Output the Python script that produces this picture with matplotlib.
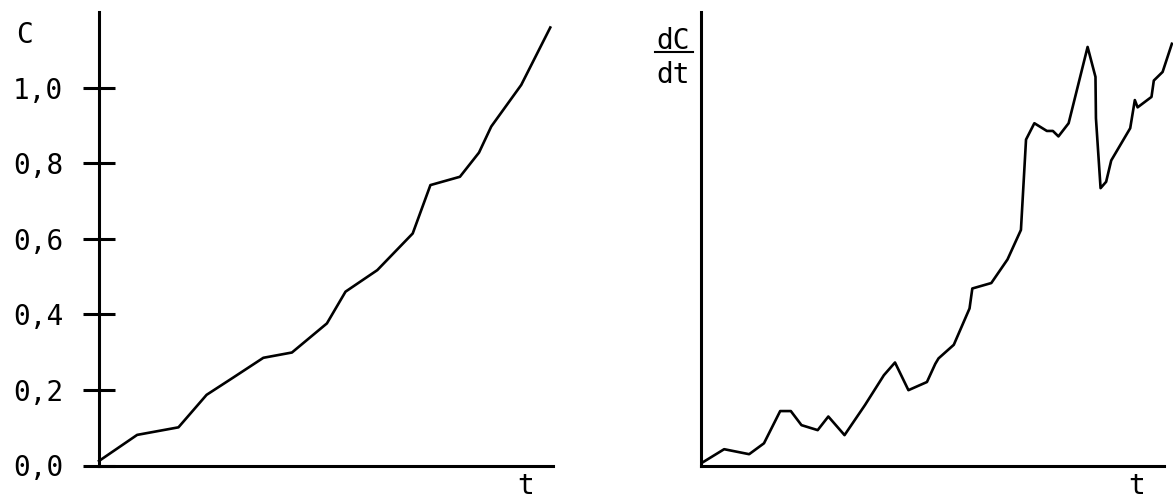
import matplotlib
matplotlib.use('Agg')
import matplotlib.pyplot as plt
from matplotlib.lines import Line2D

plt.rcParams['font.family'] = ['DejaVu Sans Mono', 'DejaVu Sans']

# concentration C(t), left panel
tC = [0.0, 0.084, 0.175, 0.237, 0.296, 0.362, 0.425, 0.502, 0.543, 0.613,
      0.691, 0.730, 0.795, 0.837, 0.864, 0.930, 0.994]
C = [0.012, 0.081, 0.101, 0.187, 0.233, 0.285, 0.299, 0.376, 0.460, 0.517,
     0.614, 0.742, 0.764, 0.828, 0.897, 1.007, 1.159]
cTicks = [0.0, 0.2, 0.4, 0.6, 0.8, 1.0]
cTickLabels = ['0,0', '0,2', '0,4', '0,6', '0,8', '1,0']

# rate dC/dt, right panel
tR = [0.002, 0.050, 0.104, 0.136, 0.171, 0.194, 0.217, 0.252, 0.275, 0.310,
      0.354, 0.395, 0.419, 0.448, 0.488, 0.506, 0.513, 0.546, 0.580, 0.586,
      0.627, 0.662, 0.691, 0.702, 0.720, 0.747, 0.760, 0.772, 0.794, 0.835,
      0.852, 0.853, 0.863, 0.875, 0.886, 0.927, 0.937, 0.943, 0.973, 0.978,
      0.997, 1.017]
R = [0.007, 0.037, 0.026, 0.050, 0.121, 0.121, 0.090, 0.079, 0.109, 0.068,
     0.134, 0.200, 0.228, 0.167, 0.185, 0.225, 0.237, 0.267, 0.347, 0.391,
     0.403, 0.455, 0.520, 0.719, 0.755, 0.738, 0.738, 0.726, 0.755, 0.923,
     0.857, 0.766, 0.612, 0.626, 0.673, 0.744, 0.806, 0.790, 0.813, 0.849,
     0.868, 0.930]

W, H = 1173, 501
fig = plt.figure(figsize=(W / 100, H / 100), dpi=100)

lw_axis = 2.2
lw_curve = 1.9

# Left panel
ax1 = fig.add_axes([99 / W, (H - 465.5) / H, 454 / W, 453.5 / H])
ax1.plot(tC, C, color='black', lw=lw_curve, clip_on=False)
ax1.set_xlim(0, 1)
ax1.set_ylim(0, 1.2)
ax1.set_xticks([])
ax1.set_yticks(cTicks)
ax1.set_yticklabels(cTickLabels)
ax1.tick_params(axis='y', direction='inout', length=22.5, width=lw_axis,
                labelsize=20, pad=14.5)
for s in ['top', 'right']:
    ax1.spines[s].set_visible(False)
for s in ['left', 'bottom']:
    ax1.spines[s].set_linewidth(lw_axis)
ax1.text(-0.163, 0.949, 'C', transform=ax1.transAxes, fontsize=20,
         ha='center', va='center')
ax1.text(0.94, -0.045, 't', transform=ax1.transAxes, fontsize=20,
         ha='center', va='center')

# Right panel
ax2 = fig.add_axes([701 / W, (H - 466) / H, 463 / W, 454 / H])
ax2.plot(tR, R, color='black', lw=lw_curve, clip_on=False)
ax2.set_xlim(0, 1)
ax2.set_ylim(0, 1)
ax2.set_xticks([])
ax2.set_yticks([])
for s in ['top', 'right']:
    ax2.spines[s].set_visible(False)
for s in ['left', 'bottom']:
    ax2.spines[s].set_linewidth(lw_axis)
ax2.text(-0.061, 0.936, 'dC', transform=ax2.transAxes, fontsize=20,
         ha='center', va='center')
ax2.text(-0.061, 0.862, 'dt', transform=ax2.transAxes, fontsize=20,
         ha='center', va='center')
ax2.add_line(Line2D([-0.099, -0.017], [0.911, 0.911], transform=ax2.transAxes,
                    color='black', lw=1.5, clip_on=False))
ax2.text(0.94, -0.045, 't', transform=ax2.transAxes, fontsize=20,
         ha='center', va='center')

fig.savefig('out.png', dpi=100)
